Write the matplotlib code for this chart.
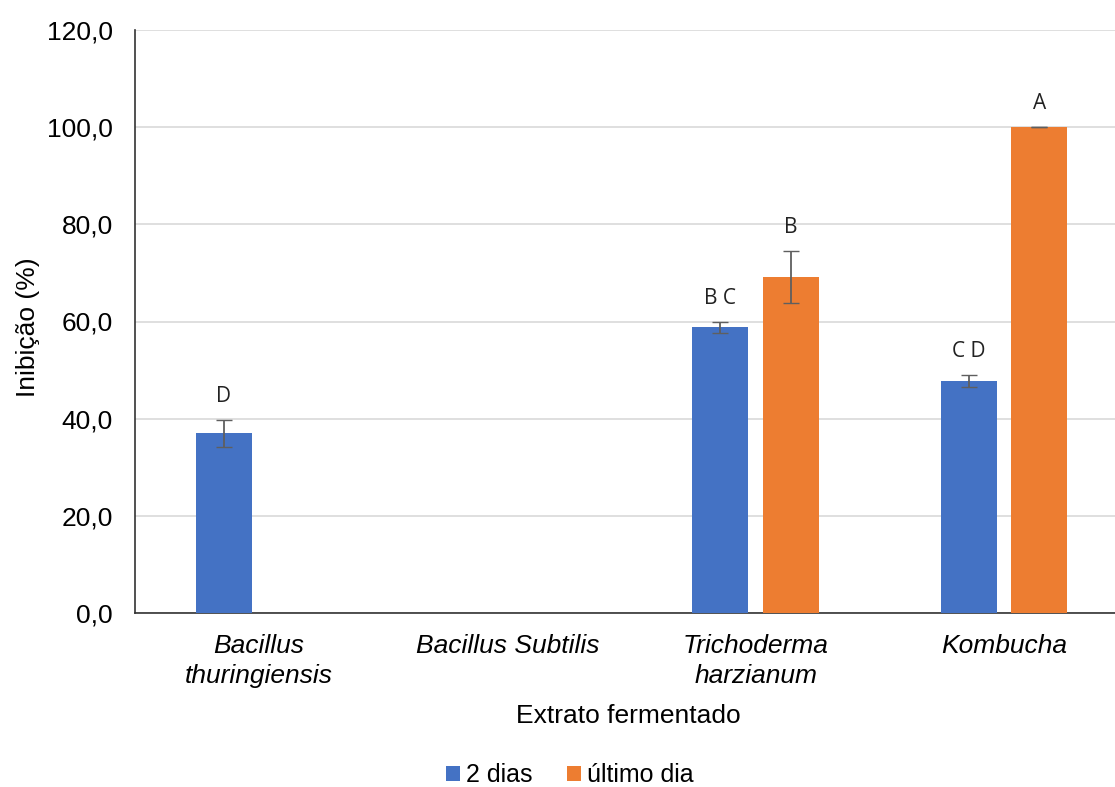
import numpy as np
import matplotlib.pyplot as plt

categorias = ["Bacillus\nthuringiensis", "Bacillus Subtilis", "Trichoderma\nharzianum", "Kombucha"]
dias2 = [37.0, np.nan, 58.8, 47.8]
dias2_err = [2.8, 0, 1.2, 1.2]
ultimo = [np.nan, np.nan, 69.2, 100.0]
ultimo_err = [0, 0, 5.3, 0.05]
letras2 = ["D", "", "B C", "C D"]
letras_ult = ["", "", "B", "A"]

plt.rcParams['font.family'] = ['Liberation Sans', 'DejaVu Sans']

fig = plt.figure(figsize=(11.15, 7.87), dpi=100)
ax = fig.add_axes([135/1115, 1-613/787, 993/1115, 583/787])

x = np.arange(len(categorias))
w = 0.225
off = 0.142
azul = '#4472C4'
laranja = '#ED7D31'

ax.bar(x - off, dias2, w, color=azul, label='2 dias', zorder=3)
ax.bar(x + off, ultimo, w, color=laranja, label='último dia', zorder=3)
ax.errorbar(x - off, dias2, yerr=dias2_err, fmt='none', ecolor='#5f5f5f', elinewidth=1.3, capsize=6, zorder=4)
ax.errorbar(x + off, ultimo, yerr=ultimo_err, fmt='none', ecolor='#5f5f5f', elinewidth=1.3, capsize=6, zorder=4)

for i in range(len(categorias)):
    if letras2[i]:
        ax.text(x[i] - off, dias2[i] + dias2_err[i] + 2.6, letras2[i], ha='center', va='bottom',
                fontsize=15, family='Open Sans', color='#222222')
    if letras_ult[i]:
        ax.text(x[i] + off, ultimo[i] + ultimo_err[i] + 2.6, letras_ult[i], ha='center', va='bottom',
                fontsize=15, family='Open Sans', color='#222222')

ax.set_xlim(-0.5, 3.5)
ax.set_ylim(0, 120)
ax.set_yticks(np.arange(0, 121, 20))
ax.set_yticklabels([f"{v:.1f}".replace('.', ',') for v in np.arange(0, 121, 20)], fontsize=19)
ax.set_xticks(x)
ax.set_xticklabels(categorias, fontsize=19, style='italic', linespacing=1.35)
ax.tick_params(axis='x', length=0, pad=15)
ax.tick_params(axis='y', length=0, pad=16)
ax.grid(axis='y', color='#d9d9d9', linewidth=1.2, zorder=0)
for s in ['top', 'right']:
    ax.spines[s].set_visible(False)
ax.spines['left'].set_color('#333333')
ax.spines['bottom'].set_color('#333333')
ax.spines['left'].set_linewidth(1.2)
ax.spines['bottom'].set_linewidth(1.2)

ax.set_ylabel('Inibição (%)', fontsize=19)
ax.yaxis.set_label_coords(-(135-40)/993, 0.49)
ax.set_xlabel('Extrato fermentado', fontsize=19)
ax.xaxis.set_label_coords((628-135)/993, -(716-613)/583)
ax.xaxis.label.set_va('center')
ax.legend(loc='center', bbox_to_anchor=(570/1115, 1-775/787), bbox_transform=fig.transFigure,
          ncol=2, frameon=False, fontsize=18, handlelength=0.55, handleheight=0.55,
          handletextpad=0.25, columnspacing=1.4)

fig.savefig('out.png', dpi=100)
